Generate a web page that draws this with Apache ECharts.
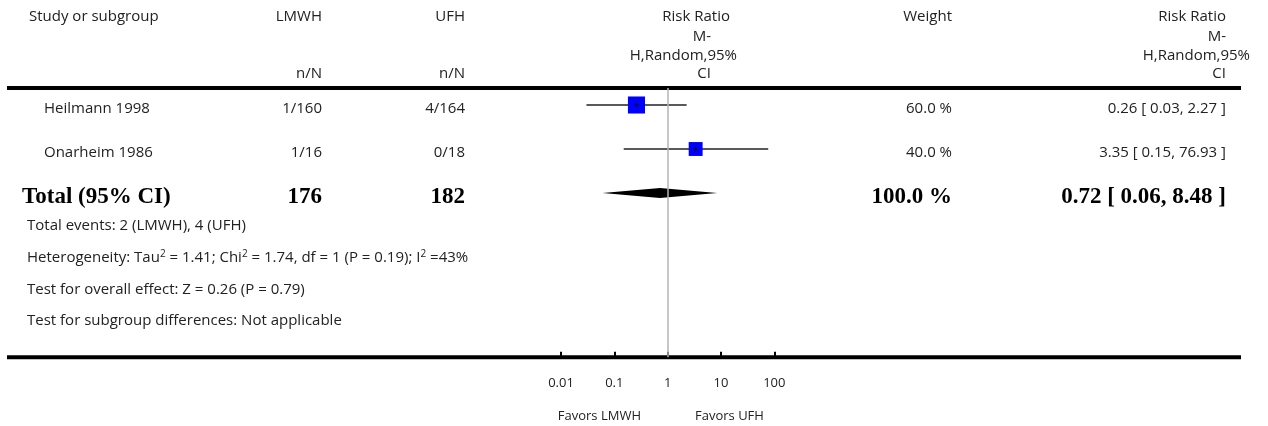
<!DOCTYPE html>
<html><head><meta charset="utf-8">
<script src="https://cdn.jsdelivr.net/npm/echarts@6/dist/echarts.min.js"></script>
<style>html,body{margin:0;padding:0;background:#fff}#c{width:1268px;height:426px}</style>
</head><body><div id="c"></div>
<script>
// ---------- data ----------
const studies = ['Heilmann 1998', 'Onarheim 1986'];
const lmwhEvents = ['1/160', '1/16'];
const ufhEvents = ['4/164', '0/18'];
const riskRatio = [0.26, 3.35];
const ciLow = [0.03, 0.15];
const ciHigh = [2.27, 76.93];
const weights = [60.0, 40.0];
const totalName = 'Total (95% CI)';
const totalLmwh = '176';
const totalUfh = '182';
const totalRR = 0.72, totalLow = 0.06, totalHigh = 8.48;
const totalWeight = 100.0;
const tickValues = [0.01, 0.1, 1, 10, 100];
const tickLabels = ['0.01', '0.1', '1', '10', '100'];
const favorsLeft = 'Favors LMWH';
const favorsRight = 'Favors UFH';
const headStudy = 'Study or subgroup';
const headLmwh = ['LMWH', 'n/N'];
const headUfh = ['UFH', 'n/N'];
const headRR = ['Risk Ratio', 'M-', 'H,Random,95%', 'CI'];
const headWeight = 'Weight';
const footnotes = [
  'Total events: 2 (LMWH), 4 (UFH)',
  'Heterogeneity: Tau{s|2} = 1.41; Chi{s|2} = 1.74, df = 1 (P = 0.19); I{s|2} =43%',
  'Test for overall effect: Z = 0.26 (P = 0.79)',
  'Test for subgroup differences: Not applicable'
];

// ---------- styling ----------
const SANS = '"Open Sans", Lato, "Noto Sans", sans-serif';
const SERIF = '"Liberation Serif", "DejaVu Serif", serif';
const TXT = '#222';
const f2 = v => v.toFixed(2);
const ciText = (r, l, h) => f2(r) + ' [ ' + f2(l) + ', ' + f2(h) + ' ]';

const chart = echarts.init(document.getElementById('c'));
const GRID_TOP = 88, AXIS_Y = 357.3, ROW0 = 105, ROWH = 44;

const studyData = studies.map((s, i) => ({ name: s, value: [riskRatio[i], i, ciLow[i], ciHigh[i], weights[i]] }));
const totalRow = studies.length;

chart.setOption({
  animation: false,
  grid: { left: 561, top: GRID_TOP, width: 213.3, height: AXIS_Y - GRID_TOP },
  xAxis: {
    type: 'log', logBase: 10, position: 'bottom',
    min: tickValues[0], max: tickValues[tickValues.length - 1],
    axisLine: { show: false, onZero: false },
    axisTick: { show: true, inside: true, length: 5.5, lineStyle: { color: '#000', width: 2 } },
    splitLine: { show: false },
    axisLabel: {
      margin: 19, fontFamily: SANS, fontSize: 13, color: TXT,
      formatter: v => {
        for (let i = 0; i < tickValues.length; i++) {
          if (Math.abs(Math.log10(v) - Math.log10(tickValues[i])) < 1e-6) return tickLabels[i];
        }
        return '';
      }
    }
  },
  yAxis: { type: 'value', inverse: true, show: false,
    min: (GRID_TOP - ROW0) / ROWH, max: (AXIS_Y - ROW0) / ROWH },
  series: [
    {
      type: 'custom', data: studyData, z: 3,
      renderItem: (params, api) => {
        const y = api.value(1);
        const p = api.coord([api.value(0), y]);
        const l = api.coord([api.value(2), y]);
        const h = api.coord([api.value(3), y]);
        const s = 22 * Math.sqrt(api.value(4) / 100);
        return { type: 'group', children: [
          { type: 'line', shape: { x1: l[0], y1: l[1], x2: h[0], y2: h[1] }, style: { stroke: '#222', lineWidth: 1.3 } },
          { type: 'rect', shape: { x: p[0] - s / 2, y: p[1] - s / 2, width: s, height: s }, style: { fill: '#0000ff' } },
          { type: 'line', shape: { x1: p[0] - 2.5, y1: p[1], x2: p[0] + 2.5, y2: p[1] }, style: { stroke: '#111', lineWidth: 1 } },
          { type: 'line', shape: { x1: p[0], y1: p[1] - 2.5, x2: p[0], y2: p[1] + 2.5 }, style: { stroke: '#111', lineWidth: 1 } }
        ] };
      },
      markLine: {
        silent: true, symbol: ['none', 'none'], label: { show: false },
        lineStyle: { color: '#b5b5b5', width: 1.5, type: 'solid' },
        data: [{ xAxis: 1 }]
      }
    },
    {
      type: 'custom', z: 4,
      data: [{ name: totalName, value: [totalRR, totalRow, totalLow, totalHigh] }],
      renderItem: (params, api) => {
        const y = api.value(1);
        const p = api.coord([api.value(0), y]);
        const l = api.coord([api.value(2), y]);
        const h = api.coord([api.value(3), y]);
        return { type: 'polygon', shape: { points: [l, [p[0], p[1] - 5], h, [p[0], p[1] + 5]] }, style: { fill: '#000' } };
      }
    }
  ]
});

// ---------- table text ----------
const rowY = i => chart.convertToPixel({ yAxisIndex: 0 }, i);
const g = [];
function txt(text, x, y, align, opts) {
  opts = opts || {};
  g.push({ type: 'text', silent: true, z: 10, style: Object.assign({
    text: text, x: x, y: y, align: align, verticalAlign: 'middle',
    fontFamily: SANS, fontSize: 15, fill: TXT
  }, opts) });
}
// rules
g.push({ type: 'line', silent: true, shape: { x1: 7, y1: GRID_TOP, x2: 1241, y2: GRID_TOP }, style: { stroke: '#000', lineWidth: 4 } });
g.push({ type: 'line', silent: true, shape: { x1: 7, y1: AXIS_Y, x2: 1241, y2: AXIS_Y }, style: { stroke: '#000', lineWidth: 4 } });

// header
const HY = [17, 37, 56, 74];
txt(headStudy, 29, HY[0], 'left');
txt(headLmwh[0], 322, HY[0], 'right'); txt(headLmwh[1], 322, HY[3], 'right');
txt(headUfh[0], 465, HY[0], 'right'); txt(headUfh[1], 465, HY[3], 'right');
const midRight = [730, 711, 737, 711];
const sideRight = [1226, 1226, 1250, 1226];
headRR.forEach((t, i) => { txt(t, midRight[i], HY[i], 'right'); txt(t, sideRight[i], HY[i], 'right'); });
txt(headWeight, 952, HY[0], 'right');

// study rows
const TEXT_DY = 4;
studies.forEach((s, i) => {
  const y = rowY(i) + TEXT_DY;
  txt(s, 44, y, 'left');
  txt(lmwhEvents[i], 322, y, 'right');
  txt(ufhEvents[i], 465, y, 'right');
  txt(weights[i].toFixed(1) + ' %', 952, y, 'right');
  txt(ciText(riskRatio[i], ciLow[i], ciHigh[i]), 1226, y, 'right');
});
// total row
const bold = { fontFamily: SERIF, fontWeight: 'bold', fontSize: 23, fill: '#000' };
const ty = rowY(totalRow) + TEXT_DY;
txt(totalName, 22, ty, 'left', bold);
txt(totalLmwh, 322, ty, 'right', bold);
txt(totalUfh, 465, ty, 'right', bold);
txt(totalWeight.toFixed(1) + ' %', 952, ty, 'right', bold);
txt(ciText(totalRR, totalLow, totalHigh), 1226, ty, 'right', bold);

// footnotes
const FY = [226, 258, 290, 321];
footnotes.forEach((t, i) => txt(t, 27, FY[i], 'left', {
  rich: { s: { fontFamily: SANS, fontSize: 10, fill: TXT, verticalAlign: 'top', lineHeight: 18 } }
}));

// favors
txt(favorsLeft, 641, 416, 'right', { fontSize: 13 });
txt(favorsRight, 695, 416, 'left', { fontSize: 13 });

chart.setOption({ graphic: { elements: g } });
</script>
</body></html>
